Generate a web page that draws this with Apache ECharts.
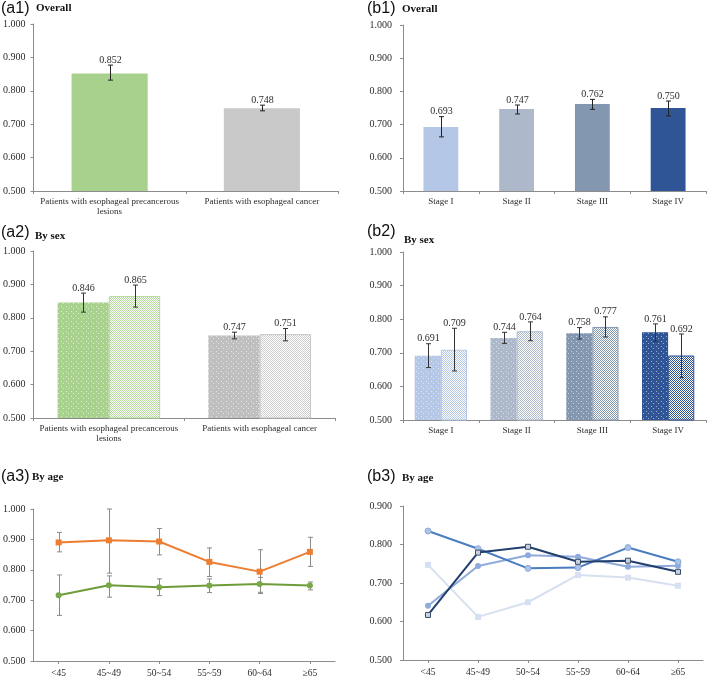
<!DOCTYPE html>
<html><head><meta charset="utf-8">
<script src="https://cdn.jsdelivr.net/npm/echarts@6/dist/echarts.min.js"></script>
<style>html,body{margin:0;padding:0;background:#fff}#c{width:709px;height:678px}</style>
</head><body><div id="c"></div>
<script>
// ---------- data ----------
const catA = ['Patients with esophageal precancerous\nlesions', 'Patients with esophageal cancer'];
const catB = ['Stage I', 'Stage II', 'Stage III', 'Stage IV'];
const ages = ['<45', '45~49', '50~54', '55~59', '60~64', '\u226565'];
const yTicks = [0.5, 0.6, 0.7, 0.8, 0.9, 1.0];

// (a1) overall
const a1Mean = [0.852, 0.748];
const a1Lo   = [0.832, 0.740];
const a1Hi   = [0.877, 0.757];
// (b1) overall by stage
const b1Mean = [0.693, 0.747, 0.762, 0.750];
const b1Lo   = [0.663, 0.732, 0.746, 0.726];
const b1Hi   = [0.724, 0.759, 0.776, 0.771];
// (a2) by sex
const a2MaleMean = [0.846, 0.747];
const a2MaleLo   = [0.817, 0.737];
const a2MaleHi   = [0.874, 0.757];
const a2FemMean  = [0.865, 0.751];
const a2FemLo    = [0.832, 0.731];
const a2FemHi    = [0.898, 0.768];
// (b2) by sex
const b2MaleMean = [0.691, 0.744, 0.758, 0.761];
const b2MaleLo   = [0.656, 0.728, 0.741, 0.734];
const b2MaleHi   = [0.727, 0.761, 0.775, 0.786];
const b2FemMean  = [0.709, 0.764, 0.777, 0.692];
const b2FemLo    = [0.646, 0.736, 0.747, 0.626];
const b2FemHi    = [0.773, 0.792, 0.807, 0.756];
// (a3) by age
const a3PreMean = [0.890, 0.897, 0.893, 0.826, 0.794, 0.859];
const a3PreLo   = [0.859, 0.789, 0.849, 0.778, 0.722, 0.811];
const a3PreHi   = [0.923, 1.000, 0.936, 0.872, 0.866, 0.907];
const a3CanMean = [0.716, 0.749, 0.743, 0.748, 0.753, 0.748];
const a3CanLo   = [0.650, 0.710, 0.715, 0.725, 0.726, 0.734];
const a3CanHi   = [0.783, 0.780, 0.770, 0.770, 0.775, 0.760];
// (b3) by age and stage
const b3Stage1 = [0.747, 0.612, 0.650, 0.721, 0.714, 0.693];
const b3Stage2 = [0.641, 0.744, 0.772, 0.768, 0.742, 0.745];
const b3Stage3 = [0.835, 0.789, 0.738, 0.740, 0.792, 0.755];
const b3Stage4 = [0.617, 0.779, 0.794, 0.755, 0.758, 0.729];

// ---------- styles ----------
const SERIF = '"Liberation Serif","Times New Roman",serif';
const SANS = '"Liberation Sans",Arial,sans-serif';
const AX = '#8c8c8c';
const TXT = '#2b2b2b';
const stageCol = ['#B4C7E7', '#ADB9CA', '#8497B0', '#2F5597'];

function dots(base, dot) {
  const c = document.createElement('canvas'); c.width = 5; c.height = 5;
  const g = c.getContext('2d'); g.fillStyle = base; g.fillRect(0, 0, 5, 5);
  g.fillStyle = dot; g.fillRect(1, 1, 1, 1); g.fillRect(3, 3, 1, 1);
  return { image: c, repeat: 'repeat' };
}
function checks(base) {
  const c = document.createElement('canvas'); c.width = 2; c.height = 2;
  const g = c.getContext('2d'); g.fillStyle = '#ffffff'; g.fillRect(0, 0, 2, 2);
  g.fillStyle = base; g.fillRect(0, 0, 1, 1); g.fillRect(1, 1, 1, 1);
  return { image: c, repeat: 'repeat' };
}

function errRender(color, cap, showLabel) {
  return function (params, api) {
    const x = api.value(0), lo = api.value(1), hi = api.value(2), off = api.value(3), mean = api.value(4);
    const w = api.size([1, 0])[0];
    const pHi = api.coord([x, hi]), pLo = api.coord([x, lo]);
    const cx = Math.round(pHi[0] + off * w) + 0.5;
    const st = { stroke: color, lineWidth: 1 };
    const ch = [
      { type: 'line', shape: { x1: cx, y1: pHi[1], x2: cx, y2: pLo[1] }, style: st },
      { type: 'line', shape: { x1: cx - cap, y1: pHi[1], x2: cx + cap, y2: pHi[1] }, style: st },
      { type: 'line', shape: { x1: cx - cap, y1: pLo[1], x2: cx + cap, y2: pLo[1] }, style: st }
    ];
    if (showLabel) ch.push({ type: 'text', x: cx, y: pHi[1] - 5,
      style: { text: mean.toFixed(3), align: 'center', verticalAlign: 'middle', textAlign: 'center', textVerticalAlign: 'middle',
        font: '10px ' + SERIF, fill: TXT } });
    return { type: 'group', children: ch };
  };
}
function errData(mean, lo, hi, off) {
  return mean.map((m, i) => [i, lo[i], hi[i], off, m]);
}
function errSeries(idx, data, color, showLabel) {
  return { type: 'custom', xAxisIndex: idx, yAxisIndex: idx, data: data, z: 5,
    encode: { x: 0, y: [1, 2] }, renderItem: errRender(color, 2.5, showLabel) };
}

const grids = [
  { left: 33, top: 24, width: 305, height: 167 },
  { left: 403, top: 25, width: 303, height: 166 },
  { left: 33, top: 251, width: 302, height: 167 },
  { left: 403, top: 252, width: 303, height: 168 },
  { left: 33, top: 509, width: 302, height: 152 },
  { left: 403, top: 506, width: 300, height: 154 }
];
const xCats = [catA, catB, catA, catB, ages, ages];
const xAxis = xCats.map((d, i) => ({
  type: 'category', gridIndex: i, data: d,
  axisLine: { lineStyle: { color: AX } },
  axisTick: { show: true, length: 3, alignWithLabel: i >= 4, lineStyle: { color: AX } },
  axisLabel: { color: TXT, fontFamily: SERIF, fontSize: i >= 4 ? 9.5 : 9, interval: 0, margin: i >= 4 ? 7 : 6, lineHeight: 10 }
}));
const yAxis = grids.map((g, i) => ({
  type: 'value', gridIndex: i, min: yTicks[0], max: i === 5 ? 0.9 : yTicks[yTicks.length - 1], interval: 0.1,
  axisLine: { show: true, lineStyle: { color: AX } },
  axisTick: { show: true, length: 3, lineStyle: { color: AX } },
  splitLine: { show: false },
  axisLabel: { color: TXT, fontFamily: SERIF, fontSize: 10, margin: i % 2 === 0 ? 8 : 11, formatter: v => v.toFixed(3) }
}));

const gapA = 0.32, gapB = 0.31;
const series = [
  // a1
  { type: 'bar', xAxisIndex: 0, yAxisIndex: 0, barCategoryGap: '50%',
    data: a1Mean.map((v, i) => ({ value: v, itemStyle: { color: ['#A9D18E', '#C9C9C9'][i] } })) },
  errSeries(0, errData(a1Mean, a1Lo, a1Hi, 0), '#222', true),
  // b1
  { type: 'bar', xAxisIndex: 1, yAxisIndex: 1, barCategoryGap: '54%',
    data: b1Mean.map((v, i) => ({ value: v, itemStyle: { color: stageCol[i] } })) },
  errSeries(1, errData(b1Mean, b1Lo, b1Hi, 0), '#222', true),
  // a2
  { type: 'bar', xAxisIndex: 2, yAxisIndex: 2, barGap: '0%', barCategoryGap: (gapA * 100) + '%',
    data: a2MaleMean.map((v, i) => ({ value: v, itemStyle: { color: dots(['#A9D18E', '#BFBFBF'][i], 'rgba(255,255,255,0.6)') } })) },
  { type: 'bar', xAxisIndex: 2, yAxisIndex: 2,
    data: a2FemMean.map((v, i) => ({ value: v, itemStyle: { color: checks(['#B5D99C', '#CDCDCD'][i]), borderColor: ['#B5D99C', '#C4C4C4'][i], borderWidth: 1 } })) },
  errSeries(2, errData(a2MaleMean, a2MaleLo, a2MaleHi, -(1 - gapA) / 4), '#333', true),
  errSeries(2, errData(a2FemMean, a2FemLo, a2FemHi, (1 - gapA) / 4), '#333', true),
  // b2
  { type: 'bar', xAxisIndex: 3, yAxisIndex: 3, barGap: '0%', barCategoryGap: (gapB * 100) + '%',
    data: b2MaleMean.map((v, i) => ({ value: v, itemStyle: { color: dots(stageCol[i], 'rgba(255,255,255,0.55)') } })) },
  { type: 'bar', xAxisIndex: 3, yAxisIndex: 3,
    data: b2FemMean.map((v, i) => ({ value: v, itemStyle: { color: checks(stageCol[i]), borderColor: stageCol[i], borderWidth: 1 } })) },
  errSeries(3, errData(b2MaleMean, b2MaleLo, b2MaleHi, -(1 - gapB) / 4), '#333', true),
  errSeries(3, errData(b2FemMean, b2FemLo, b2FemHi, (1 - gapB) / 4), '#333', true),
  // a3
  Object.assign(errSeries(4, errData(a3PreMean, a3PreLo, a3PreHi, 0), '#8a8a8a', false), { z: 1 }),
  Object.assign(errSeries(4, errData(a3CanMean, a3CanLo, a3CanHi, 0), '#8a8a8a', false), { z: 1 }),
  { type: 'line', xAxisIndex: 4, yAxisIndex: 4, data: a3PreMean, z: 3, symbol: 'rect', symbolSize: 6,
    lineStyle: { color: '#ED7D31', width: 2 }, itemStyle: { color: '#ED7D31' } },
  { type: 'line', xAxisIndex: 4, yAxisIndex: 4, data: a3CanMean, z: 3, symbol: 'circle', symbolSize: 6,
    lineStyle: { color: '#6E9C3A', width: 2 }, itemStyle: { color: '#79A846' } },
  // b3
  { type: 'line', xAxisIndex: 5, yAxisIndex: 5, data: b3Stage1, symbol: 'rect', symbolSize: 6,
    lineStyle: { color: '#D6E0F0', width: 2 }, itemStyle: { color: '#D6E0F0' } },
  { type: 'line', xAxisIndex: 5, yAxisIndex: 5, data: b3Stage2, symbol: 'circle', symbolSize: 6,
    lineStyle: { color: '#8FAADC', width: 2 }, itemStyle: { color: '#8FAADC' } },
  { type: 'line', xAxisIndex: 5, yAxisIndex: 5, data: b3Stage3, symbol: 'circle', symbolSize: 6,
    lineStyle: { color: '#4A7CC0', width: 2 }, itemStyle: { color: '#A9C4E8', borderColor: '#8FAADC', borderWidth: 1 } },
  { type: 'line', xAxisIndex: 5, yAxisIndex: 5, data: b3Stage4, symbol: 'rect', symbolSize: 5,
    lineStyle: { color: '#213F6E', width: 2 }, itemStyle: { color: '#C9D1DE', borderColor: '#3A4F6E', borderWidth: 1 } }
];

const titles = [
  ['(a1)', 'Overall', 1, 9, 36, 8],
  ['(b1)', 'Overall', 367, 9, 402, 9],
  ['(a2)', 'By sex', 1, 233, 35, 236],
  ['(b2)', 'By sex', 367, 232, 404, 240],
  ['(a3)', 'By age', 1, 477, 32, 477],
  ['(b3)', 'By age', 367, 477, 402, 478]
];
const graphic = [];
titles.forEach(t => {
  graphic.push({ type: 'text', x: t[2], y: t[3], style: { text: t[0], font: '16px ' + SANS, fill: '#111', verticalAlign: 'middle', textVerticalAlign: 'middle' } });
  graphic.push({ type: 'text', x: t[4], y: t[5], style: { text: t[1], font: 'bold 11px ' + SERIF, fill: '#111', verticalAlign: 'middle', textVerticalAlign: 'middle' } });
});

const chart = echarts.init(document.getElementById('c'), null, { renderer: 'canvas' });
chart.setOption({ animation: false, backgroundColor: '#fff', grid: grids, xAxis: xAxis, yAxis: yAxis, series: series, graphic: graphic });
</script></body></html>
